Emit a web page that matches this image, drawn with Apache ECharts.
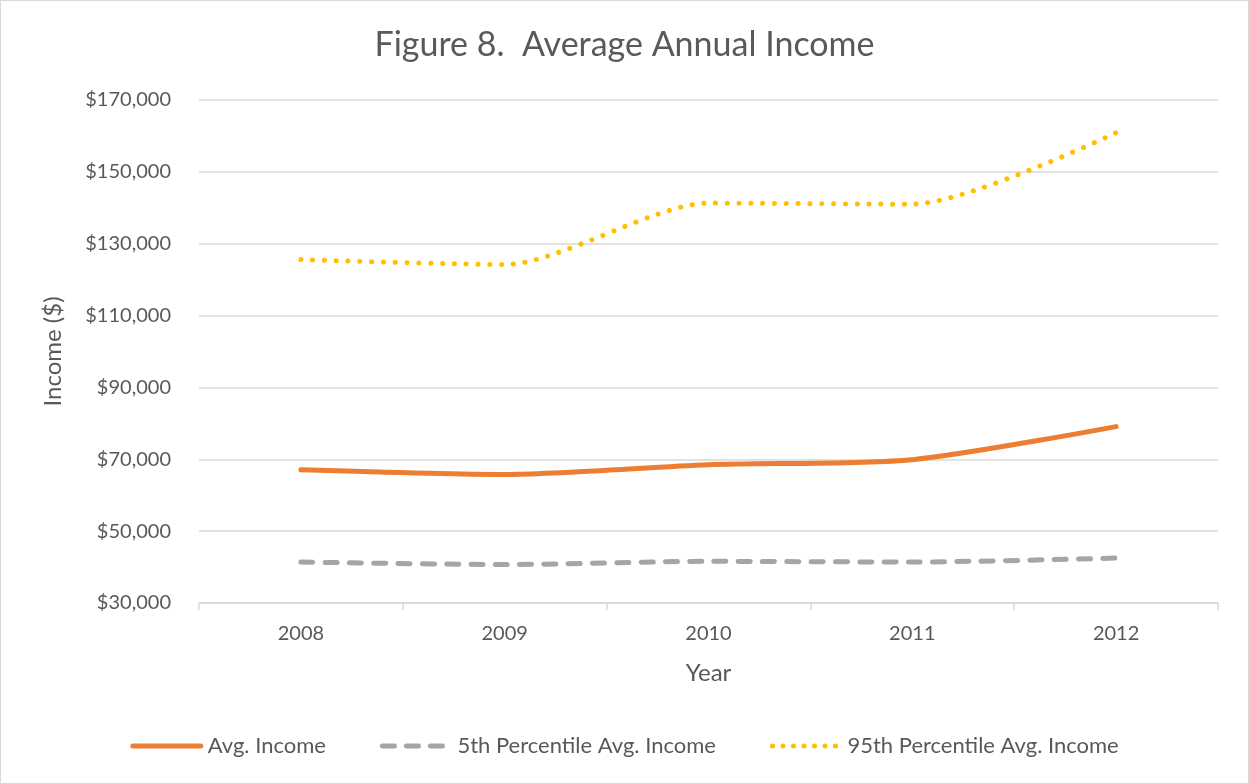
<!DOCTYPE html>
<html>
<head>
<meta charset="utf-8">
<script src="https://cdn.jsdelivr.net/npm/echarts@6/dist/echarts.min.js"></script>
<style>
  html, body { margin: 0; padding: 0; background: #fff; }
  #chart { width: 1249px; height: 784px; box-sizing: border-box; border: 1px solid #d9d9d9; }
</style>
</head>
<body>
<div id="chart"></div>
<script>
// Annual income figures by year
const years = ['2008', '2009', '2010', '2011', '2012'];
const avgIncome = [67100, 65800, 68500, 69900, 79100];
const p5Income = [41400, 40700, 41600, 41400, 42500];
const p95Income = [125600, 124200, 141300, 141000, 160900];

const seriesNames = ['Avg. Income', '5th Percentile Avg. Income', '95th Percentile Avg. Income'];

const yMin = 30000, yMax = 170000, yStep = 20000;

const textColor = '#595959';
const fontFamily = 'Lato, "Open Sans", sans-serif';
const colors = { avg: '#ED7D31', p5: '#A5A5A5', p95: '#FFC000' };

const chart = echarts.init(document.getElementById('chart'));

chart.setOption({
  backgroundColor: '#fff',
  textStyle: { fontFamily: fontFamily, color: textColor },
  title: {
    text: 'Figure 8.  Average Annual Income',
    left: 'center',
    top: 22,
    textStyle: { fontSize: 34, fontWeight: 'normal', color: textColor, fontFamily: fontFamily }
  },
  grid: { left: 198, right: 30, top: 99, bottom: 180 },
  legend: {
    bottom: 21,
    left: 'center',
    itemWidth: 68,
    itemHeight: 12,
    itemGap: 54,
    textStyle: { fontSize: 22, color: textColor, fontFamily: fontFamily, padding: [0, 0, 0, 2] },
    itemStyle: { opacity: 0 },
    lineStyle: { width: 5, cap: 'round' },
    data: [
      { name: seriesNames[0], lineStyle: { type: 'solid' } },
      { name: seriesNames[1], lineStyle: { type: [12, 12] } },
      { name: seriesNames[2], lineStyle: { type: [0.1, 10.4] } }
    ]
  },
  xAxis: {
    type: 'category',
    data: years,
    boundaryGap: true,
    name: 'Year',
    nameLocation: 'middle',
    nameGap: 58,
    nameTextStyle: { fontSize: 24, color: textColor },
    axisLine: { lineStyle: { color: '#d9d9d9', width: 1.5 } },
    axisTick: { show: true, length: 7, lineStyle: { color: '#d9d9d9', width: 1.5 } },
    axisLabel: { fontSize: 20, color: textColor, margin: 21 }
  },
  yAxis: {
    type: 'value',
    min: yMin,
    max: yMax,
    interval: yStep,
    name: 'Income ($)',
    nameLocation: 'middle',
    nameGap: 134,
    nameRotate: 90,
    nameTextStyle: { fontSize: 24, color: textColor },
    axisLine: { show: false },
    axisTick: { show: false },
    splitLine: { lineStyle: { color: '#d9d9d9', width: 1.5 } },
    axisLabel: {
      fontSize: 20,
      color: textColor,
      margin: 28,
      formatter: v => '$' + v.toLocaleString('en-US')
    }
  },
  series: [
    {
      name: seriesNames[0],
      type: 'line',
      data: avgIncome,
      smooth: 0.25,
      symbol: 'none',
      color: colors.avg,
      lineStyle: { color: colors.avg, width: 5, cap: 'round' }
    },
    {
      name: seriesNames[1],
      type: 'line',
      data: p5Income,
      smooth: 0.25,
      symbol: 'none',
      color: colors.p5,
      lineStyle: { color: colors.p5, width: 5, type: [12, 12.3], cap: 'round' }
    },
    {
      name: seriesNames[2],
      type: 'line',
      data: p95Income,
      smooth: 0.25,
      symbol: 'none',
      color: colors.p95,
      lineStyle: { color: colors.p95, width: 5, type: [0.1, 11.7], cap: 'round' }
    }
  ]
});
</script>
</body>
</html>
